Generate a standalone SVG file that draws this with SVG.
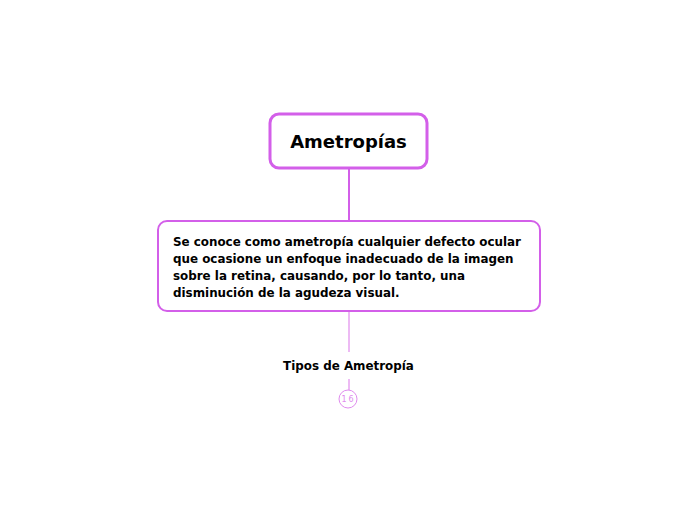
<svg xmlns="http://www.w3.org/2000/svg" width="697" height="520" viewBox="0 0 697 520">
<style>
.t{font-family:"DejaVu Sans",Verdana,sans-serif;font-weight:bold;fill:#000}
.box{fill:#fff;stroke:#d35fe9}
</style>
<rect width="697" height="520" fill="#fff"/>
<g id="connectors">
<line x1="349" y1="169" x2="349" y2="221" stroke="#d35fe9" stroke-width="2"/>
<line x1="349" y1="311" x2="349" y2="352" stroke="#e7a3f1" stroke-width="1.5"/>
<line x1="349" y1="379" x2="349" y2="390" stroke="#e7a3f1" stroke-width="1.5"/>
</g>
<g id="n1">
<rect class="box" x="270" y="114" width="157" height="54" rx="9" stroke-width="3"/>
<text class="t" x="348.5" y="148" font-size="18" text-anchor="middle">Ametropías</text>
</g>
<g id="n2">
<rect class="box" x="158" y="221" width="382" height="90" rx="9" stroke-width="2"/>
<text class="t" font-size="11.9" x="173"><tspan x="173" y="246">Se conoce como ametropía cualquier defecto ocular</tspan><tspan x="173" y="263">que ocasione un enfoque inadecuado de la imagen</tspan><tspan x="173" y="280">sobre la retina, causando, por lo tanto, una</tspan><tspan x="173" y="297">disminución de la agudeza visual.</tspan></text>
</g>
<g id="n3">
<text class="t" x="348.5" y="370" font-size="11.9" text-anchor="middle">Tipos de Ametropía</text>
</g>
<g id="badge">
<circle cx="348" cy="399" r="9" fill="#fff" stroke="#e08cee" stroke-width="1"/>
<text x="348.5" y="402" font-size="8" text-anchor="middle" font-family="DejaVu Sans,sans-serif" fill="#e08cee" letter-spacing="2">16</text>
</g>
</svg>
